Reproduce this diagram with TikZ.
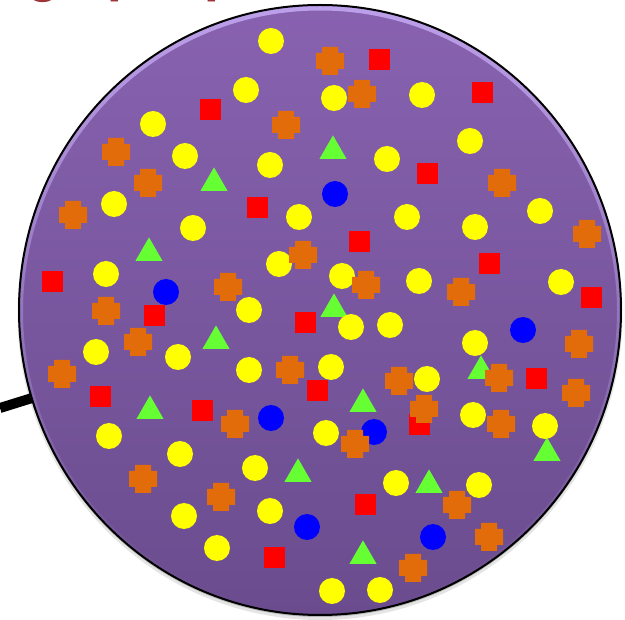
\documentclass[tikz,border=0pt]{standalone}
\usepackage{fontspec}
\newfontfamily\titlefont{Carlito}
\usetikzlibrary{shapes.geometric}
\definecolor{popTop}{HTML}{8862B0}
\definecolor{popBot}{HTML}{6A4C8E}
\definecolor{popRim}{HTML}{BDA0EA}
\definecolor{dotYellow}{HTML}{FFFF00}
\definecolor{dotBlue}{HTML}{0000FF}
\definecolor{sqRed}{HTML}{FF0000}
\definecolor{triGreen}{HTML}{66FF33}
\definecolor{crossOrange}{HTML}{E36C0A}
\definecolor{titleRed}{HTML}{9E3438}
\tikzset{
  ydot/.style={circle, fill=dotYellow, minimum size=26pt, inner sep=0pt, outer sep=0pt},
  bdot/.style={circle, fill=dotBlue, minimum size=26pt, inner sep=0pt, outer sep=0pt},
  rsq/.style={rectangle, fill=sqRed, minimum size=21pt, inner sep=0pt, outer sep=0pt},
  gtri/.style={regular polygon, regular polygon sides=3, fill=triGreen, minimum size=31.2pt, inner sep=0pt, outer sep=0pt},
  ocross/.pic={\fill[crossOrange] (-8,-14) -- (8,-14) -- (8,-8) -- (14,-8) -- (14,8) -- (8,8) -- (8,14) -- (-8,14) -- (-8,8) -- (-14,8) -- (-14,-8) -- (-8,-8) -- cycle;},
  titletext/.style={text=titleRed, font=\titlefont\bfseries\fontsize{60}{60}\selectfont, inner sep=0pt, outer sep=0pt, anchor=base west},
  popshape/.style={ellipse, minimum width=602pt, minimum height=610pt, inner sep=0pt, outer sep=0pt}
}
\begin{document}
\begin{tikzpicture}[x=1pt,y=-1pt]
\useasboundingbox (0,0) rectangle (625,620);
% title fragments (only descenders visible)
\node[titletext] (tg) at (30,-7.5) {g};
\node[titletext] (tp1) at (107,-7.5) {p};
\node[titletext] (tp2) at (204,-7.5) {p};
% shadow
\fill[black, opacity=0.10] (320,314) ellipse [x radius=302.5, y radius=306];
\fill[black, opacity=0.2] (320,312) ellipse [x radius=301.5, y radius=305];
% population
\node[popshape, top color=popTop, bottom color=popBot] (pop) at (320,310) {};
\shade[top color=popRim, bottom color=popBot, even odd rule]
  (320,310) ellipse [x radius=301, y radius=305]
  (320,311.5) ellipse [x radius=297, y radius=301];
\draw[black, line width=2pt] (pop.center) ellipse [x radius=301, y radius=305];
% pointer line
\coordinate (tail) at (0,408);
\draw[black, line width=10pt] (tail) -- (pop.197);
% triangles
\foreach \x/\y [count=\i] in {333/151,214/183,149/253,334/309,216/341,481/371,150/411,363/404,547/453,298/474,429/485,363/556}
  \node[gtri] (t\i) at (\x,\y) {};
% squares
\foreach \x/\y [count=\i] in {379/60,482/93,210/110,427/174,257/208,359/242,489/264,52/282,591/298,154/316,305/323,100/397,202/411,317/391,536/379,419/425,365/505,274/558}
  \node[rsq] (s\i) at (\x,\y) {};
% yellow circles
\foreach \x/\y [count=\i] in {271/41,246/90,334/98,422/95,153/124,185/156,270/165,387/159,470/141,114/204,193/228,299/217,407/217,475/227,540/211,106/274,279/264,342/276,419/281,561/282,249/310,351/327,390/325,475/343,96/352,178/357,249/370,331/367,427/379,109/436,180/454,326/433,473/415,545/426,255/468,396/483,479/485,184/516,270/511,217/548,332/591,380/590}
  \node[ydot] (y\i) at (\x,\y) {};
% blue circles
\foreach \x/\y [count=\i] in {335/194,166/292,523/330,271/418,374/432,307/527,433/537}
  \node[bdot] (b\i) at (\x,\y) {};
% orange crosses
\foreach \x/\y [count=\i] in {330/61,362/94,286/125,116/152,148/183,502/183,73/215,587/234,303/255,228/287,366/285,461/292,106/311,138/342,579/344,62/374,290/370,399/381,499/378,576/393,424/409,235/424,501/424,355/444,143/479,221/497,457/505,489/537,413/568}
  \pic (c\i) at (\x,\y) {ocross};
\end{tikzpicture}
\end{document}
